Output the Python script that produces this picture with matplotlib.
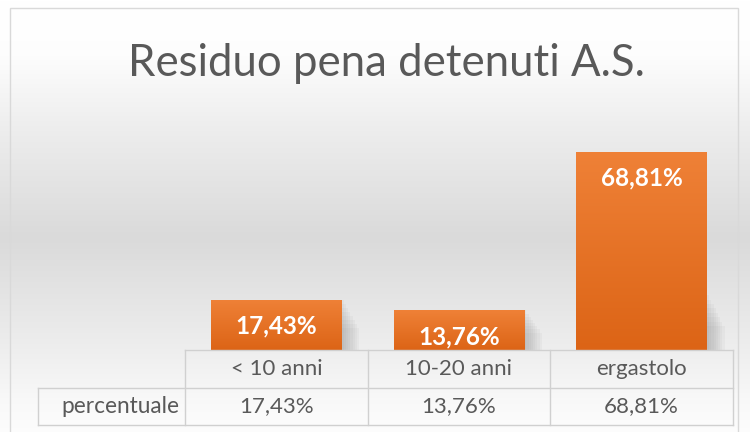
import numpy as np
import matplotlib
matplotlib.use("Agg")
import matplotlib.pyplot as plt
from matplotlib.patches import Rectangle
from matplotlib.lines import Line2D

# ---- data ----
categories = ["< 10 anni", "10-20 anni", "ergastolo"]
values = [17.43, 13.76, 68.81]
value_labels = ["17,43%", "13,76%", "68,81%"]
row_label = "percentuale"
title = "Residuo pena detenuti A.S."

W, H = 750, 432
DPI = 100
FONT = "Lato"

fig = plt.figure(figsize=(W / DPI, H / DPI), dpi=DPI)

# ---- background gradient ----
bg = fig.add_axes([0, 0, 1, 1], zorder=-10)
bg.set_axis_off()
ys = np.linspace(0, 1, 432)  # 0 = top
stops_y = [0.0, 0.12, 0.30, 0.55, 0.80, 0.93, 1.0]
stops_c = [1.0, 0.995, 0.93, 0.855, 0.93, 0.975, 0.99]
col = np.interp(ys, stops_y, stops_c)
img = np.repeat(col[:, None], 10, axis=1)
bg.imshow(np.dstack([img, img, img]), aspect="auto", extent=[0, 1, 0, 1], origin="upper")
bg.set_xlim(0, 1)
bg.set_ylim(0, 1)


def fx(px):
    return px / W


def fy(py):
    return 1 - py / H

# outer frame
fig.patches.append(Rectangle((fx(10), fy(440)), fx(738) - fx(10), fy(8) - fy(440),
                             transform=fig.transFigure, fill=False,
                             edgecolor="#d9d9d9", linewidth=1.0, zorder=1))

# ---- title ----
fig.text(fx(386), fy(63), title, ha="center", va="center", fontsize=31.5,
         color="#595959", family=FONT, fontweight="normal")

# ---- bar axes ----
x_left, x_right = 185, 733
y_base = 350
ymax = 80.0
px_per_unit = 2.88
y_top = y_base - ymax * px_per_unit
ax = fig.add_axes([fx(x_left), fy(y_base), fx(x_right) - fx(x_left), fy(y_top) - fy(y_base)])
ax.set_axis_off()
ax.patch.set_alpha(0)
ax.set_xlim(-0.5, len(categories) - 0.5)
ax.set_ylim(0, ymax)

xpos = np.arange(len(categories))
bars = ax.bar(xpos, values, width=0.715, color="#e56f22", zorder=3)

grad = np.linspace(0, 1, 256)[:, None]
top_c = np.array([0.937, 0.506, 0.216])
bot_c = np.array([0.863, 0.392, 0.086])
gimg = top_c[None, None, :] * (1 - grad[:, :, None]) + bot_c[None, None, :] * grad[:, :, None]

for b, lab in zip(bars, value_labels):
    x0, w, h = b.get_x(), b.get_width(), b.get_height()
    # soft shadow to the right
    sh_h = min(h, 19.0)
    for k in range(8):
        a = 0.05
        off = 0.012 + k * 0.012
        ax.add_patch(Rectangle((x0 + w, 0), off, sh_h * (1 - k * 0.08),
                               facecolor="#707070", edgecolor="none", alpha=a, zorder=2))
    im = ax.imshow(gimg, extent=[x0, x0 + w, 0, h], aspect="auto", origin="upper", zorder=4)
    im.set_clip_path(b)
    ax.annotate(lab, xy=(x0 + w / 2, h), xytext=(0, -19), textcoords="offset points",
                ha="center", va="center", color="white", fontsize=17.5,
                fontweight="bold", family=FONT, zorder=5)
ax.set_xlim(-0.5, len(categories) - 0.5)
ax.set_ylim(0, ymax)

# ---- data table ----
tcol = "#d0d0d0"
row1_top, row1_bot, row2_bot = 350, 388, 425
lab_left = 38
col_w = (x_right - x_left) / len(categories)
col_edges = [x_left + i * col_w for i in range(len(categories) + 1)]


def hline(x0, x1, y):
    fig.lines.append(Line2D([fx(x0), fx(x1)], [fy(y), fy(y)], transform=fig.transFigure,
                            color=tcol, linewidth=1.0, zorder=5))


def vline(x, y0, y1):
    fig.lines.append(Line2D([fx(x), fx(x)], [fy(y0), fy(y1)], transform=fig.transFigure,
                            color=tcol, linewidth=1.0, zorder=5))

hline(x_left, x_right, row1_top)
hline(lab_left, x_right, row1_bot)
hline(lab_left, x_right, row2_bot)
for xe in col_edges:
    vline(xe, row1_top, row2_bot)
vline(lab_left, row1_bot, row2_bot)

for i, (c, v) in enumerate(zip(categories, value_labels)):
    cx = (col_edges[i] + col_edges[i + 1]) / 2
    fig.text(fx(cx), fy((row1_top + row1_bot) / 2), c, ha="center", va="center",
             fontsize=16, color="#595959", family=FONT)
    fig.text(fx(cx), fy((row1_bot + row2_bot) / 2), v, ha="center", va="center",
             fontsize=16, color="#595959", family=FONT)
fig.text(fx(x_left - 6), fy((row1_bot + row2_bot) / 2), row_label,
         ha="right", va="center", fontsize=16.3, color="#595959", family=FONT)

fig.savefig("out.png", dpi=DPI)
